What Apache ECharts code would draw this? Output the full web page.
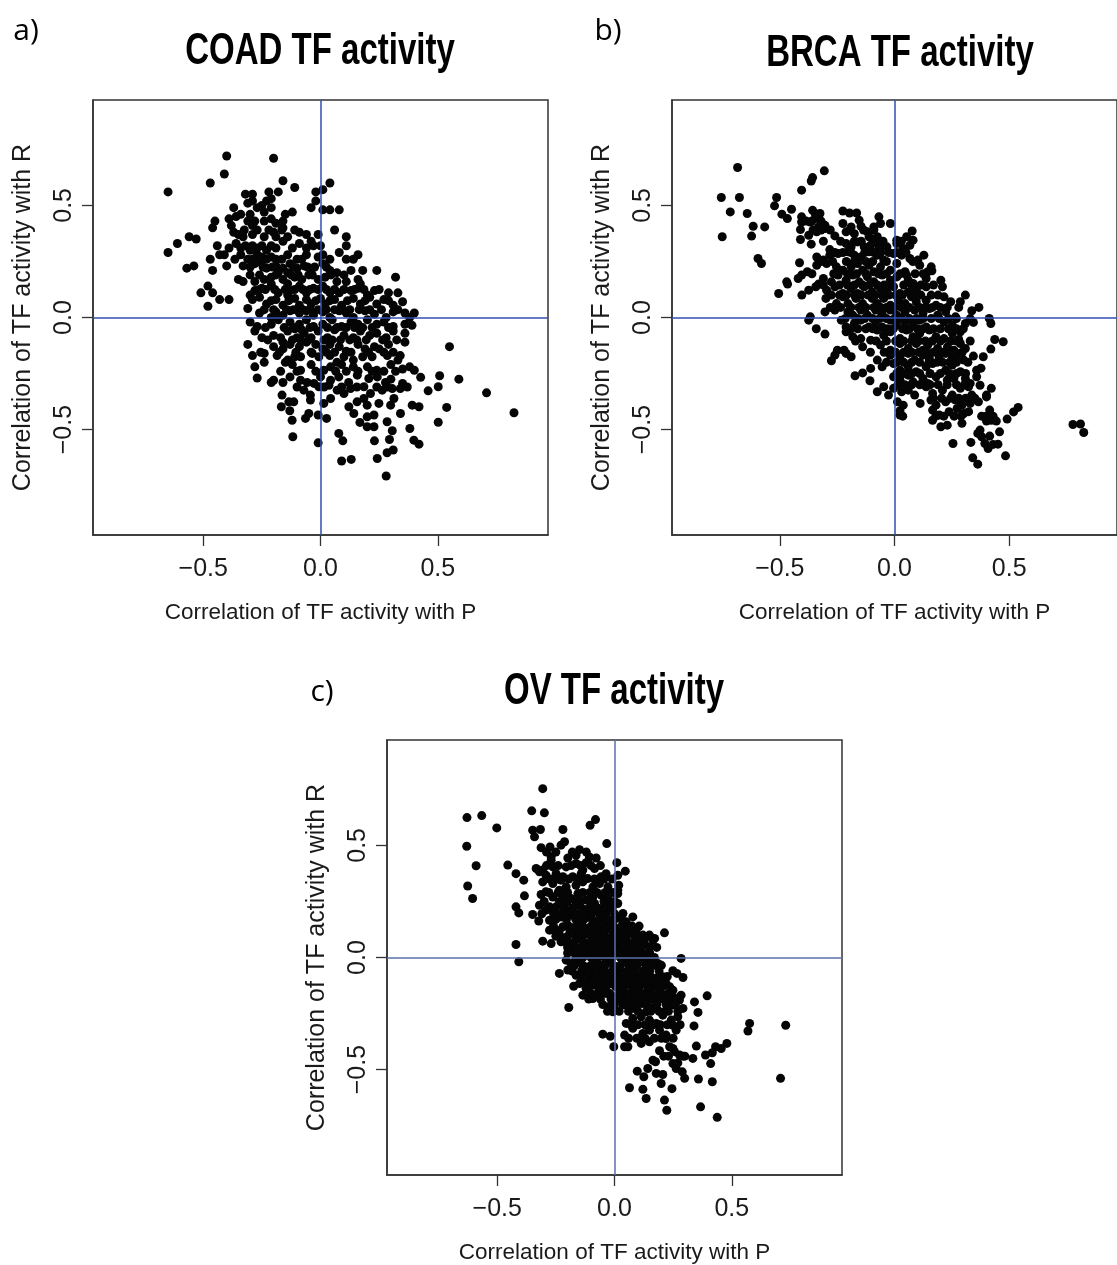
<!DOCTYPE html>
<html>
<head>
<meta charset="utf-8">
<title>TF activity correlations</title>
<script src="https://cdn.jsdelivr.net/npm/echarts@6/dist/echarts.min.js"></script>
<style>
  html, body { margin: 0; padding: 0; background: #fff; }
  #chart { width: 1117px; height: 1265px; }
</style>
</head>
<body>
<div id="chart"></div>
<script>
const tickValues = [-0.5, 0, 0.5]
const axisMin = -0.97
const axisMax = 0.97
const panelTitles = ['COAD TF activity', 'BRCA TF activity', 'OV TF activity']
const panelTags = ['a)', 'b)', 'c)']
const xName = 'Correlation of TF activity with P'
const yName = 'Correlation of TF activity with R'

// [correlation with P, correlation with R]
const coadPoints = [
  [-0.40,0.72],[-0.20,0.71],[-0.41,0.64],[-0.47,0.60],[-0.16,0.61],[0.04,0.60],
  [-0.65,0.56],[-0.11,0.58],[0.01,0.57],[-0.02,0.56],[-0.32,0.55],[-0.29,0.55],[-0.22,0.56],[-0.18,0.56],
  [-0.21,0.53],[-0.23,0.52],[-0.29,0.52],[-0.31,0.51],[-0.02,0.52],[-0.25,0.50],
  [-0.37,0.49],[-0.27,0.49],[-0.24,0.47],[-0.21,0.49],[-0.15,0.46],[-0.12,0.47],[-0.04,0.49],[0.01,0.48],[0.04,0.48],[0.08,0.48],[-0.30,0.46],[-0.34,0.46],
  [-0.39,0.44],[-0.36,0.45],[-0.31,0.43],[-0.28,0.43],[-0.21,0.44],[-0.19,0.42],[-0.45,0.43],[-0.46,0.40],[-0.38,0.41],[-0.29,0.41],[-0.24,0.43],[-0.16,0.40],[-0.16,0.43],
  [-0.37,0.38],[-0.35,0.37],[-0.29,0.37],[-0.27,0.39],[-0.24,0.36],[-0.20,0.38],[-0.19,0.36],[-0.14,0.36],[-0.09,0.38],[-0.06,0.37],[-0.01,0.37],[0.06,0.39],[0.11,0.36],[-0.56,0.36],[-0.53,0.35],[-0.33,0.36],
  [-0.61,0.33],[-0.36,0.33],[-0.32,0.32],[-0.29,0.32],[-0.25,0.32],[-0.21,0.32],[-0.16,0.34],[-0.09,0.33],[-0.04,0.34],[-0.03,0.32],[0.00,0.32],[0.11,0.32],[-0.44,0.32],[-0.39,0.31],[-0.41,0.28],[-0.65,0.29],[-0.30,0.30],[-0.23,0.30],
  [-0.47,0.26],[-0.43,0.28],[-0.34,0.28],[-0.31,0.26],[-0.27,0.28],[-0.25,0.27],[-0.21,0.27],[-0.14,0.28],[-0.10,0.26],[-0.06,0.28],[-0.01,0.27],[0.01,0.28],[0.08,0.29],[0.16,0.28],[0.14,0.26],[-0.19,0.26],[-0.26,0.25],
  [-0.57,0.22],[-0.54,0.23],[-0.46,0.21],[-0.40,0.23],[-0.33,0.23],[-0.28,0.24],[-0.23,0.22],[-0.19,0.23],[-0.16,0.22],[-0.13,0.24],[-0.10,0.22],[-0.07,0.23],[-0.04,0.21],[0.01,0.24],[0.04,0.21],[0.07,0.20],[0.13,0.21],[0.18,0.21],[0.24,0.21],[-0.14,0.20],[-0.18,0.20],
  [-0.35,0.17],[-0.33,0.16],[-0.28,0.16],[-0.24,0.17],[-0.21,0.18],[-0.16,0.17],[-0.11,0.18],[-0.08,0.17],[-0.05,0.19],[-0.01,0.17],[0.02,0.18],[0.07,0.16],[0.11,0.16],[0.16,0.17],[0.17,0.15],[0.32,0.18],[-0.21,0.15],[-0.14,0.15],
  [-0.48,0.14],[-0.51,0.11],[-0.46,0.11],[-0.28,0.12],[-0.25,0.13],[-0.21,0.14],[-0.18,0.11],[-0.13,0.12],[-0.09,0.14],[-0.06,0.11],[-0.03,0.13],[0.01,0.14],[0.04,0.11],[0.08,0.11],[0.13,0.12],[0.16,0.13],[0.20,0.10],[0.23,0.12],[0.29,0.11],[0.33,0.11],[-0.30,0.10],[-0.14,0.10],
  [-0.43,0.08],[-0.39,0.08],[-0.48,0.05],[-0.31,0.04],[-0.29,0.08],[-0.26,0.09],[-0.23,0.06],[-0.19,0.08],[-0.16,0.055],[-0.11,0.085],[-0.09,0.055],[-0.06,0.08],[-0.04,0.06],[0.00,0.085],[0.02,0.06],[0.06,0.08],[0.09,0.055],[0.14,0.085],[0.17,0.06],[0.24,0.06],[0.27,0.08],[0.35,0.07],[0.31,0.055],[0.21,0.09],
  [-0.26,0.02],[-0.19,0.025],[-0.16,0.01],[-0.13,0.03],[-0.09,0.02],[-0.06,0.03],[-0.03,0.01],[0.01,0.025],[0.04,0.00],[0.08,0.03],[0.11,0.02],[0.14,0.00],[0.19,0.03],[0.23,0.015],[0.28,0.00],[0.31,0.025],[0.36,0.02],[0.40,0.02],[0.38,0.00],[-0.21,0.00],
  [-0.30,-0.02],[-0.27,-0.04],[-0.21,-0.03],[-0.18,-0.01],[-0.13,-0.02],[-0.09,-0.03],[-0.06,-0.01],[-0.03,-0.04],[0.01,-0.03],[0.05,-0.01],[0.09,-0.04],[0.13,-0.02],[0.16,-0.03],[0.20,-0.01],[0.24,-0.03],[0.27,-0.02],[0.31,-0.04],[0.36,-0.03],[0.39,-0.035],[-0.11,-0.05],
  [-0.28,-0.06],[-0.25,-0.09],[-0.20,-0.08],[-0.17,-0.09],[-0.14,-0.06],[-0.10,-0.09],[-0.07,-0.07],[-0.04,-0.09],[-0.01,-0.06],[0.03,-0.09],[0.06,-0.055],[0.10,-0.08],[0.14,-0.09],[0.17,-0.06],[0.21,-0.08],[0.24,-0.07],[0.28,-0.09],[0.31,-0.06],[0.36,-0.07],[-0.08,-0.055],
  [-0.31,-0.12],[-0.20,-0.13],[-0.16,-0.14],[-0.13,-0.12],[-0.09,-0.13],[-0.06,-0.11],[-0.02,-0.12],[0.01,-0.14],[0.04,-0.12],[0.08,-0.13],[0.11,-0.15],[0.16,-0.12],[0.19,-0.14],[0.23,-0.13],[0.25,-0.14],[0.29,-0.12],[0.36,-0.11],[0.55,-0.13],[-0.16,-0.11],
  [-0.29,-0.17],[-0.24,-0.16],[-0.185,-0.17],[-0.14,-0.19],[-0.11,-0.175],[-0.085,-0.175],[-0.035,-0.16],[-0.007,-0.175],[0.04,-0.17],[0.10,-0.175],[0.14,-0.19],[0.18,-0.175],[0.22,-0.175],[0.285,-0.17],[0.33,-0.19],[0.34,-0.17],[0.07,-0.20],
  [-0.28,-0.22],[-0.24,-0.20],[-0.15,-0.20],[-0.12,-0.21],[-0.04,-0.21],[0.014,-0.235],[0.043,-0.22],[0.09,-0.21],[0.14,-0.22],[0.20,-0.22],[0.24,-0.235],[0.30,-0.21],[0.35,-0.23],[0.38,-0.22],[0.40,-0.235],[-0.085,-0.235],[0.11,-0.24],
  [-0.27,-0.27],[-0.21,-0.29],[-0.20,-0.28],[-0.16,-0.29],[-0.13,-0.265],[-0.085,-0.28],[-0.057,-0.29],[0.00,-0.265],[0.043,-0.28],[0.078,-0.265],[0.12,-0.29],[0.157,-0.257],[0.206,-0.272],[0.242,-0.265],[0.277,-0.29],[0.30,-0.275],[0.35,-0.294],[0.427,-0.267],[0.508,-0.26],[0.59,-0.275],[-0.028,-0.294],
  [-0.071,-0.324],[-0.007,-0.309],[0.036,-0.302],[0.071,-0.324],[0.10,-0.339],[0.128,-0.317],[0.185,-0.309],[0.213,-0.339],[0.263,-0.324],[0.306,-0.317],[0.459,-0.327],[0.502,-0.309],[0.708,-0.336],[0.34,-0.317],[-0.043,-0.346],
  [-0.164,-0.346],[-0.114,-0.376],[-0.043,-0.368],[0.014,-0.383],[0.043,-0.361],[0.121,-0.398],[0.156,-0.376],[0.185,-0.361],[0.199,-0.391],[0.249,-0.383],[0.299,-0.391],[0.313,-0.361],[0.391,-0.391],[0.42,-0.398],[-0.167,-0.398],[-0.135,-0.376],
  [-0.131,-0.416],[-0.05,-0.428],[-0.01,-0.435],[0.026,-0.45],[0.142,-0.428],[0.199,-0.443],[0.228,-0.435],[0.341,-0.428],[0.538,-0.401],[0.825,-0.425],[-0.064,-0.45],[-0.121,-0.458],
  [0.168,-0.468],[0.199,-0.487],[0.228,-0.487],[0.284,-0.465],[0.306,-0.505],[0.381,-0.495],[0.502,-0.467],
  [-0.118,-0.532],[0.078,-0.517],[0.095,-0.55],[-0.01,-0.559],[0.23,-0.55],[0.294,-0.544],[0.398,-0.547],[0.42,-0.565],[0.31,-0.591],[0.284,-0.603],[0.242,-0.629],[0.131,-0.633],[0.09,-0.64],[0.28,-0.707]
]
// dots packed in between the rows of the dense core
const coadCore = [
  [-0.34,0.31],[-0.27,0.31],[-0.19,0.31],[-0.12,0.31],[-0.06,0.31],
  [-0.325,0.39],[-0.22,0.39],[-0.165,0.39],[-0.11,0.39],
  [-0.365,0.26],[-0.29,0.26],[-0.23,0.26],[-0.165,0.26],[-0.08,0.26],[0.04,0.26],[0.11,0.26],
  [-0.30,0.225],[-0.245,0.225],[-0.205,0.225],[-0.115,0.225],[-0.055,0.225],[-0.025,0.225],[0.025,0.225],
  [-0.30,0.19],[-0.26,0.19],[-0.19,0.19],[-0.125,0.19],[-0.095,0.19],[-0.035,0.19],[0.045,0.19],[0.10,0.19],
  [-0.26,0.125],[-0.235,0.125],[-0.195,0.125],[-0.15,0.125],[-0.11,0.125],[-0.075,0.125],[-0.045,0.125],[-0.01,0.125],[0.025,0.125],[0.06,0.125],[0.10,0.125],[0.145,0.125],[0.185,0.125],[0.25,0.125],
  [-0.21,0.075],[-0.135,0.075],[-0.02,0.075],[0.04,0.075],[0.115,0.075],[0.19,0.075],[0.29,0.075],
  [-0.24,0.035],[-0.20,0.035],[-0.145,0.035],[-0.115,0.035],[-0.075,0.035],[-0.045,0.035],[-0.01,0.035],[0.025,0.035],[0.06,0.035],[0.095,0.035],[0.125,0.035],[0.165,0.035],[0.21,0.035],[0.26,0.035],[0.33,0.035],
  [-0.235,-0.045],[-0.155,-0.045],[-0.115,-0.045],[-0.045,-0.045],[0.03,-0.045],[0.07,-0.045],[0.11,-0.045],[0.145,-0.045],[0.18,-0.045],[0.22,-0.045],[0.29,-0.045],
  [-0.225,-0.10],[-0.12,-0.10],[-0.085,-0.10],[-0.05,-0.10],[0.015,-0.10],[0.05,-0.10],[0.085,-0.10],[0.125,-0.10],[0.155,-0.10],[0.195,-0.10],[0.265,-0.10],[0.325,-0.10],
  [-0.255,-0.155],[-0.175,-0.155],[-0.105,-0.155],[-0.04,-0.155],[0.025,-0.155],[0.06,-0.155],[0.13,-0.155],[0.205,-0.155],[0.27,-0.155],[0.31,-0.155],
  [-0.17,-0.24],[-0.10,-0.24],[-0.02,-0.24],[0.065,-0.24],[0.16,-0.24],[0.22,-0.24],[0.27,-0.24],[0.32,-0.24],
  [-0.10,-0.31],[0.015,-0.31],[0.09,-0.31],[0.155,-0.31],[0.24,-0.31],[0.285,-0.31],[0.37,-0.31]
]

const brcaPoints = [
  [-0.684,0.669],[-0.755,0.535],[-0.676,0.535],[-0.716,0.471],[-0.642,0.464],[-0.751,0.36],[-0.623,0.363],[-0.616,0.407],[-0.566,0.404],[-0.595,0.263],[-0.58,0.241],
  [-0.514,0.535],[-0.523,0.498],[-0.491,0.461],[-0.467,0.441],[-0.449,0.483],[-0.405,0.568],[-0.357,0.624],[-0.363,0.609],[-0.306,0.654],
  [-0.505,0.107],[-0.47,0.159],[-0.466,0.149],[-0.414,0.244],[-0.42,0.174],[-0.405,0.189],[-0.38,0.204],[-0.404,0.1],[-0.374,0.122],[-0.343,0.137],[-0.331,0.149],
  [-0.374,-0.012],[-0.367,0.003],[-0.341,-0.05],[-0.303,-0.074],[-0.275,-0.193],[-0.26,-0.168],[-0.249,-0.146],[-0.172,-0.26],[-0.139,-0.247],[-0.107,-0.282],
  [-0.075,-0.331],[-0.047,-0.309],[-0.026,-0.346],[0.024,-0.435],[0.036,-0.44],[0.112,-0.383],[0.255,-0.562],[0.333,-0.557],[0.341,-0.626],[0.363,-0.654],[0.484,-0.617],
  [0.778,-0.477],[0.811,-0.475],[0.825,-0.513],[0.539,-0.401],[0.519,-0.421],[0.491,-0.453],[0.474,-0.108],[0.437,-0.098],[0.42,-0.141],
  [0.42,-0.027],[0.413,-0.004],[0.368,0.045],[0.337,0.03],[0.344,-0.022],[0.309,0.1],[0.287,0.07],[0.209,0.137],[0.202,0.166],[0.16,0.226],[0.163,0.208],[0.128,0.278],[0.077,0.386],
  [0.387,-0.175],[0.377,-0.226],[0.344,-0.172],[0.373,-0.302],[0.422,-0.316],[0.401,-0.346],
  [-0.405,0.449],[-0.357,0.478],[-0.346,0.464],[-0.325,0.464],[-0.225,0.475],[-0.196,0.466],[-0.165,0.466],[-0.068,0.449],
  [-0.405,0.426],[-0.367,0.426],[-0.346,0.441],[-0.331,0.404],[-0.303,0.411],[-0.225,0.419],[-0.189,0.404],[-0.154,0.434],[-0.146,0.407],[-0.09,0.404],[-0.061,0.419],[-0.018,0.419],
  [-0.41,0.392],[-0.374,0.367],[-0.339,0.382],[-0.303,0.397],[-0.26,0.364],[-0.211,0.382],[-0.175,0.374],[-0.118,0.382],[-0.111,0.36],[-0.075,0.36],[0.053,0.36],[0.01,0.345],[0.081,0.345],[-0.41,0.348],
  [-0.363,0.327],[-0.282,0.303],[-0.211,0.33],[-0.189,0.315],[-0.161,0.337],[-0.132,0.315],[-0.104,0.322],[-0.068,0.315],[-0.033,0.315],[0.01,0.33],[0.038,0.308],[0.067,0.322],
  [-0.339,0.27],[-0.31,0.256],[-0.282,0.278],[-0.246,0.285],[-0.203,0.293],[-0.175,0.278],[-0.147,0.27],[-0.111,0.293],[-0.075,0.278],[-0.047,0.256],[-0.004,0.285],[0.031,0.278],[0.067,0.263],[0.102,0.256],
  [-0.339,0.233],[-0.296,0.241],[-0.253,0.226],[-0.225,0.211],[-0.189,0.226],[-0.161,0.241],[-0.139,0.211],[-0.111,0.233],[-0.09,0.204],[-0.061,0.226],[-0.018,0.211],[0.01,0.241],[0.046,0.204],[0.11,0.233],[0.145,0.204],
  [-0.31,0.174],[-0.275,0.159],[-0.246,0.189],[-0.211,0.166],[-0.182,0.189],[-0.154,0.159],[-0.118,0.181],[-0.09,0.159],[-0.054,0.189],[-0.018,0.166],[0.01,0.181],[0.053,0.189],[0.06,0.166],[0.081,0.152],[0.138,0.174],
  [-0.296,0.122],[-0.26,0.137],[-0.225,0.107],[-0.189,0.129],[-0.161,0.107],[-0.132,0.137],[-0.097,0.114],[-0.061,0.129],[-0.033,0.114],[-0.004,0.137],[0.024,0.107],[0.06,0.114],[0.095,0.122],[0.138,0.137],
  [-0.299,0.085],[-0.253,0.062],[-0.225,0.092],[-0.203,0.062],[-0.168,0.085],[-0.139,0.062],[-0.097,0.085],[-0.075,0.062],[-0.047,0.085],[-0.018,0.055],[0.017,0.077],[0.046,0.062],[0.074,0.092],[0.095,0.07],[0.138,0.077],[0.181,0.055],[0.245,0.07],[0.216,0.092],
  [-0.303,0.025],[-0.26,0.033],[-0.203,0.025],[-0.182,0.01],[-0.147,0.033],[-0.118,0.01],[-0.082,0.033],[-0.054,0.018],[-0.018,0.033],[0.01,0.01],[0.046,0.025],[0.088,0.033],[0.124,0.018],[0.152,0.04],[0.188,0.01],[0.223,0.025],[0.266,0.003],
  [-0.232,-0.012],[-0.211,-0.042],[-0.175,-0.027],[-0.147,-0.012],[-0.111,-0.042],[-0.082,-0.019],[-0.054,-0.042],[-0.018,-0.012],[0.01,-0.034],[0.046,-0.019],[0.081,-0.027],[0.11,-0.012],[0.138,-0.042],[0.216,-0.019],[0.252,-0.034],[0.309,-0.027],
  [-0.211,-0.064],[-0.182,-0.086],[-0.147,-0.094],[-0.104,-0.101],[-0.075,-0.056],[-0.047,-0.079],[-0.018,-0.064],[0.024,-0.094],[0.053,-0.056],[0.081,-0.086],[0.11,-0.071],[0.152,-0.056],[0.181,-0.086],[0.216,-0.094],[0.252,-0.071],[0.287,-0.064],[0.28,-0.098],
  [-0.22,-0.146],[-0.139,-0.131],[-0.061,-0.123],[-0.018,-0.146],[0.024,-0.116],[0.06,-0.138],[0.095,-0.116],[0.124,-0.146],[0.145,-0.123],[0.188,-0.138],[0.231,-0.131],[0.259,-0.146],[0.287,-0.116],[0.309,-0.138],
  [-0.211,-0.16],[-0.189,-0.175],[-0.075,-0.19],[-0.018,-0.168],[0.024,-0.175],[0.06,-0.16],[0.088,-0.19],[0.124,-0.168],[0.152,-0.183],[0.195,-0.175],[0.223,-0.16],[0.252,-0.183],[0.28,-0.168],[0.302,-0.19],
  [-0.104,-0.227],[-0.054,-0.22],[-0.004,-0.205],[0.024,-0.235],[0.06,-0.22],[0.095,-0.242],[0.138,-0.22],[0.166,-0.205],[0.223,-0.235],[0.252,-0.212],[0.287,-0.242],[0.358,-0.235],
  [-0.004,-0.264],[0.024,-0.279],[0.06,-0.257],[0.081,-0.287],[0.124,-0.272],[0.145,-0.294],[0.181,-0.264],[0.23,-0.279],[0.259,-0.272],[0.309,-0.272],[0.33,-0.294],[0.358,-0.264],
  [-0.004,-0.316],[0.031,-0.331],[0.06,-0.324],[0.088,-0.346],[0.138,-0.309],[0.166,-0.339],[0.209,-0.324],[0.252,-0.346],[0.287,-0.316],[0.323,-0.309],[0.337,-0.346],
  [0.013,-0.376],[0.038,-0.391],[0.159,-0.368],[0.181,-0.391],[0.223,-0.376],[0.266,-0.368],[0.294,-0.391],[0.33,-0.383],[0.366,-0.376],[0.401,-0.354],
  [0.024,-0.416],[0.166,-0.413],[0.195,-0.435],[0.238,-0.42],[0.273,-0.406],[0.302,-0.428],[0.323,-0.42],[0.415,-0.413],
  [0.166,-0.458],[0.202,-0.487],[0.23,-0.48],[0.294,-0.472],[0.401,-0.462],[0.422,-0.458],[0.444,-0.462],[0.373,-0.502],[0.458,-0.51],
  [0.363,-0.517],[0.38,-0.532],[0.415,-0.529],[0.451,-0.565],[0.43,-0.566],[0.408,-0.584],[0.394,-0.562]
]
const brcaCore = [
  [-0.385,0.43],[-0.36,0.43],[-0.32,0.43],
  [-0.355,0.39],[-0.32,0.39],[-0.28,0.39],[-0.195,0.39],[-0.135,0.39],[-0.09,0.39],
  [-0.31,0.34],[-0.235,0.34],[-0.175,0.34],[-0.145,0.34],[-0.085,0.34],[-0.05,0.34],[0.03,0.34],
  [-0.26,0.29],[-0.225,0.29],[-0.19,0.29],[-0.13,0.29],[-0.09,0.29],[-0.06,0.29],[-0.025,0.29],[0.01,0.29],[0.05,0.29],
  [-0.32,0.25],[-0.27,0.25],[-0.21,0.25],[-0.175,0.25],[-0.125,0.25],[-0.095,0.25],[-0.035,0.25],[0.08,0.25],
  [-0.36,0.195],[-0.265,0.195],[-0.205,0.195],[-0.165,0.195],[-0.125,0.195],[-0.07,0.195],[-0.035,0.195],[0.025,0.195],[0.09,0.195],[0.125,0.195],
  [-0.31,0.145],[-0.24,0.145],[-0.205,0.145],[-0.175,0.145],[-0.14,0.145],[-0.11,0.145],[-0.075,0.145],[-0.045,0.145],[-0.015,0.145],[0.04,0.145],[0.075,0.145],[0.115,0.145],[0.17,0.145],
  [-0.275,0.10],[-0.24,0.10],[-0.21,0.10],[-0.175,0.10],[-0.145,0.10],[-0.115,0.10],[-0.085,0.10],[-0.055,0.10],[-0.025,0.10],[0.005,0.10],[0.035,0.10],[0.085,0.10],[0.115,0.10],[0.16,0.10],[0.19,0.10],
  [-0.28,0.045],[-0.235,0.045],[-0.19,0.045],[-0.155,0.045],[-0.125,0.045],[-0.09,0.045],[-0.06,0.045],[-0.035,0.045],[0.0,0.045],[0.03,0.045],[0.065,0.045],[0.11,0.045],[0.135,0.045],[0.165,0.045],[0.20,0.045],[0.23,0.045],[0.28,0.045],
  [-0.215,-0.005],[-0.16,-0.005],[-0.13,-0.005],[-0.095,-0.005],[-0.065,-0.005],[-0.035,-0.005],[0.0,-0.005],[0.03,-0.005],[0.065,-0.005],[0.095,-0.005],[0.125,-0.005],[0.16,-0.005],[0.195,-0.005],[0.235,-0.005],[0.27,-0.005],[0.33,-0.005],
  [-0.19,-0.05],[-0.16,-0.05],[-0.125,-0.05],[-0.095,-0.05],[-0.03,-0.05],[-0.005,-0.05],[0.035,-0.05],[0.065,-0.05],[0.10,-0.05],[0.125,-0.05],[0.17,-0.05],[0.20,-0.05],[0.235,-0.05],[0.27,-0.05],[0.30,-0.05],
  [-0.17,-0.105],[-0.08,-0.105],[-0.035,-0.105],[0.005,-0.105],[0.04,-0.105],[0.075,-0.105],[0.105,-0.105],[0.135,-0.105],[0.165,-0.105],[0.20,-0.105],[0.245,-0.105],[0.27,-0.105],[0.33,-0.105],
  [-0.105,-0.155],[-0.045,-0.155],[0.005,-0.155],[0.04,-0.155],[0.075,-0.155],[0.105,-0.155],[0.14,-0.155],[0.17,-0.155],[0.21,-0.155],[0.24,-0.155],[0.265,-0.155],[0.295,-0.155],
  [-0.035,-0.20],[0.01,-0.20],[0.04,-0.20],[0.075,-0.20],[0.11,-0.20],[0.15,-0.20],[0.185,-0.20],[0.21,-0.20],[0.24,-0.20],[0.27,-0.20],[0.32,-0.20],
  [0.01,-0.25],[0.04,-0.25],[0.075,-0.25],[0.11,-0.25],[0.155,-0.25],[0.20,-0.25],[0.24,-0.25],[0.27,-0.25],[0.31,-0.25],
  [0.015,-0.30],[0.045,-0.30],[0.075,-0.30],[0.11,-0.30],[0.155,-0.30],[0.19,-0.30],[0.23,-0.30],[0.27,-0.30],[0.305,-0.30],
  [0.17,-0.36],[0.205,-0.36],[0.245,-0.36],[0.28,-0.36],[0.31,-0.36],[0.35,-0.36],
  [0.18,-0.44],[0.215,-0.44],[0.26,-0.44],[0.29,-0.44],[0.38,-0.44],[0.40,-0.44],[0.43,-0.44]
]

const ovPoints = [
  [-0.306,0.753],[-0.353,0.654],[-0.299,0.645],[-0.629,0.624],[-0.566,0.633],[-0.502,0.578],[-0.349,0.568],[-0.316,0.571],[-0.341,0.538],[-0.22,0.571],
  [-0.104,0.59],[-0.081,0.615],[-0.033,0.508],[-0.63,0.496],[-0.59,0.409],[-0.626,0.319],[-0.605,0.263],[-0.455,0.412],[-0.42,0.374],[-0.387,0.345],[-0.384,0.275],
  [-0.408,0.199],[-0.349,0.192],[-0.323,0.163],[-0.306,0.073],[-0.42,0.058],[-0.408,-0.019],[-0.235,-0.071],[-0.174,-0.128],[-0.195,-0.223],
  [-0.05,-0.342],[-0.018,-0.351],[-0.003,-0.398],[0.213,0.11],[0.284,-0.004],[0.249,-0.059],[0.266,-0.071],[0.292,-0.089],[0.395,-0.171],[0.341,-0.198],[0.356,-0.245],[0.339,-0.305],
  [0.576,-0.294],[0.569,-0.328],[0.73,-0.302],[0.708,-0.539],[0.479,-0.383],[0.455,-0.406],[0.431,-0.398],[0.417,-0.425],[0.388,-0.435],[0.41,-0.473],[0.349,-0.395],[0.334,-0.45],
  [0.358,-0.542],[0.417,-0.554],[0.367,-0.666],[0.438,-0.713],[0.064,-0.581],[0.097,-0.507],[0.125,-0.532],[0.121,-0.588],[0.135,-0.629],[0.142,-0.495],[0.178,-0.517],
  [0.206,-0.522],[0.199,-0.562],[0.213,-0.636],[0.223,-0.681],[0.245,-0.585],[0.263,-0.495],[0.289,-0.51],[0.299,-0.539],[0.192,-0.416],[0.164,-0.458],[0.175,-0.465],
  [0.256,-0.42],[0.277,-0.435],[0.292,-0.44],[0.27,-0.47],[0.249,-0.473],
  [-0.313,0.49],[-0.275,0.493],[-0.213,0.516],[-0.228,0.501],[-0.149,0.481],[-0.164,0.456],[-0.199,0.444],[-0.107,0.448],[-0.078,0.444],[-0.27,0.449],
  [-0.27,0.434],[-0.121,0.423],[-0.085,0.397],[0.01,0.423],[0.046,0.385],[-0.334,0.397],[-0.306,0.39],[-0.263,0.404],[-0.206,0.404],[-0.164,0.419],[-0.135,0.39],
  [-0.32,0.382],[-0.292,0.367],[-0.249,0.374],[-0.22,0.36],[-0.178,0.36],[-0.142,0.374],[-0.114,0.352],[-0.057,0.36],[-0.036,0.374],[0.014,0.367],[0.018,0.322],
  [-0.306,0.337],[-0.263,0.33],[-0.228,0.345],[-0.206,0.315],[-0.164,0.322],[-0.135,0.337],[-0.092,0.315],[-0.064,0.33],[-0.028,0.315],[0.014,0.3],[-0.235,0.3],
  [-0.313,0.281],[-0.292,0.293],[-0.263,0.27],[-0.22,0.278],[-0.185,0.263],[-0.156,0.285],[-0.121,0.256],[-0.092,0.27],[-0.057,0.278],[-0.028,0.263],[0.014,0.285],[-0.149,0.256],
  [-0.32,0.233],[-0.292,0.211],[-0.249,0.226],[-0.213,0.241],[-0.178,0.218],[-0.149,0.233],[-0.121,0.211],[-0.085,0.241],[-0.064,0.218],[-0.021,0.233],[0.014,0.241],[-0.42,0.226],[-0.277,0.226],
  [-0.277,0.166],[-0.228,0.181],[-0.185,0.189],[-0.149,0.166],[-0.114,0.181],[-0.078,0.159],[-0.05,0.189],[-0.021,0.166],[0.014,0.181],[0.036,0.196],[0.078,0.181],[0.05,0.159],
  [-0.277,0.122],[-0.249,0.107],[-0.22,0.137],[-0.171,0.122],[-0.149,0.144],[-0.121,0.114],[-0.085,0.137],[-0.057,0.122],[-0.021,0.137],[0.007,0.122],[0.028,0.137],[0.057,0.114],[0.092,0.122],[0.121,0.1],[0.149,0.1],[0.171,0.085],
  [-0.27,0.062],[-0.228,0.07],[-0.181,0.062],[-0.149,0.085],[-0.121,0.062],[-0.085,0.085],[-0.057,0.062],[-0.021,0.085],[0.0,0.055],[0.036,0.077],[0.064,0.062],[0.1,0.077],[0.128,0.062],[0.164,0.077],[-0.228,0.092],
  [-0.178,0.025],[-0.149,0.04],[-0.121,0.018],[-0.092,0.033],[-0.064,0.015],[-0.036,0.04],[-0.007,0.025],[0.021,0.01],[0.05,0.033],[0.078,0.025],[0.114,0.033],[0.135,0.015],
  [-0.206,-0.012],[-0.185,-0.027],[-0.149,-0.012],[-0.121,-0.042],[-0.085,-0.012],[-0.057,-0.034],[-0.021,-0.019],[0.007,-0.042],[0.043,-0.012],[0.078,-0.027],[0.114,-0.019],[0.156,-0.019],[0.185,-0.027],
  [-0.199,-0.056],[-0.164,-0.079],[-0.128,-0.064],[-0.092,-0.086],[-0.064,-0.064],[-0.028,-0.086],[0.007,-0.064],[0.036,-0.094],[0.071,-0.071],[0.107,-0.086],[0.135,-0.064],[0.171,-0.094],[0.206,-0.086],
  [-0.149,-0.116],[-0.121,-0.138],[-0.085,-0.123],[-0.057,-0.146],[-0.014,-0.116],[0.021,-0.131],[0.057,-0.116],[0.092,-0.138],[0.121,-0.116],[0.156,-0.131],[0.192,-0.138],[0.22,-0.116],[0.249,-0.146],
  [-0.135,-0.168],[-0.092,-0.183],[-0.036,-0.16],[0.007,-0.175],[0.043,-0.16],[0.071,-0.19],[0.107,-0.175],[0.135,-0.16],[0.178,-0.183],[0.213,-0.168],[0.249,-0.175],[0.277,-0.19],[0.284,-0.168],
  [-0.028,-0.22],[-0.007,-0.242],[0.043,-0.212],[0.085,-0.227],[0.121,-0.205],[0.135,-0.242],[0.171,-0.22],[0.213,-0.242],[0.249,-0.212],[0.292,-0.227],
  [0.05,-0.294],[0.078,-0.272],[0.114,-0.264],[0.149,-0.279],[0.178,-0.294],[0.206,-0.257],[0.242,-0.279],[0.27,-0.264],[0.249,-0.302],
  [0.043,-0.346],[0.078,-0.316],[0.121,-0.339],[0.149,-0.324],[0.192,-0.324],[0.22,-0.346],[0.263,-0.324],
  [0.043,-0.398],[0.057,-0.398],[0.114,-0.383],[0.149,-0.376],[0.22,-0.361],[0.235,-0.398],[0.249,-0.406]
]
const ovCore = [
  [-0.29,0.47],[-0.25,0.47],[-0.18,0.47],[-0.12,0.47],
  [-0.29,0.41],[-0.24,0.41],[-0.185,0.41],[-0.145,0.41],[-0.10,0.41],[-0.06,0.41],
  [-0.275,0.35],[-0.24,0.35],[-0.195,0.35],[-0.16,0.35],[-0.125,0.35],[-0.085,0.35],[-0.045,0.35],[-0.01,0.35],
  [-0.28,0.29],[-0.24,0.29],[-0.20,0.29],[-0.135,0.29],[-0.105,0.29],[-0.075,0.29],[-0.04,0.29],[-0.005,0.29],
  [-0.30,0.25],[-0.235,0.25],[-0.20,0.25],[-0.165,0.25],[-0.10,0.25],[-0.045,0.25],[0.0,0.25],
  [-0.31,0.195],[-0.26,0.195],[-0.23,0.195],[-0.195,0.195],[-0.165,0.195],[-0.135,0.195],[-0.10,0.195],[-0.065,0.195],[-0.035,0.195],[0.0,0.195],
  [-0.26,0.14],[-0.195,0.14],[-0.165,0.14],[-0.135,0.14],[-0.10,0.14],[-0.07,0.14],[-0.04,0.14],[-0.005,0.14],[0.045,0.14],[0.075,0.14],[0.105,0.14],
  [-0.25,0.095],[-0.20,0.095],[-0.165,0.095],[-0.135,0.095],[-0.10,0.095],[-0.07,0.095],[-0.04,0.095],[-0.005,0.095],[0.02,0.095],[0.05,0.095],[0.085,0.095],[0.115,0.095],[0.145,0.095],
  [-0.20,0.045],[-0.165,0.045],[-0.135,0.045],[-0.105,0.045],[-0.075,0.045],[-0.045,0.045],[-0.02,0.045],[0.015,0.045],[0.05,0.045],[0.085,0.045],[0.115,0.045],[0.15,0.045],[0.18,0.045],
  [-0.165,0.0],[-0.135,0.0],[-0.10,0.0],[-0.07,0.0],[-0.04,0.0],[-0.01,0.0],[0.025,0.0],[0.06,0.0],[0.095,0.0],[0.13,0.0],[0.17,0.0],
  [-0.17,-0.035],[-0.135,-0.035],[-0.10,-0.035],[-0.07,-0.035],[-0.04,-0.035],[-0.005,-0.035],[0.025,-0.035],[0.06,-0.035],[0.095,-0.035],[0.135,-0.035],[0.17,-0.035],[0.20,-0.035],
  [-0.145,-0.085],[-0.11,-0.085],[-0.075,-0.085],[-0.045,-0.085],[-0.01,-0.085],[0.02,-0.085],[0.055,-0.085],[0.09,-0.085],[0.12,-0.085],[0.155,-0.085],[0.19,-0.085],[0.225,-0.085],
  [-0.105,-0.13],[-0.07,-0.13],[-0.035,-0.13],[0.005,-0.13],[0.04,-0.13],[0.075,-0.13],[0.105,-0.13],[0.14,-0.13],[0.175,-0.13],[0.205,-0.13],[0.235,-0.13],
  [-0.11,-0.185],[-0.06,-0.185],[-0.015,-0.185],[0.025,-0.185],[0.055,-0.185],[0.09,-0.185],[0.12,-0.185],[0.155,-0.185],[0.195,-0.185],[0.23,-0.185],[0.265,-0.185],
  [-0.03,-0.24],[0.02,-0.24],[0.06,-0.24],[0.10,-0.24],[0.155,-0.24],[0.19,-0.24],[0.23,-0.24],[0.27,-0.24],
  [0.07,-0.30],[0.10,-0.30],[0.13,-0.30],[0.165,-0.30],[0.195,-0.30],[0.225,-0.30],[0.28,-0.30],
  [0.06,-0.36],[0.095,-0.36],[0.13,-0.36],[0.17,-0.36],[0.20,-0.36],[0.25,-0.36],
  [0.21,-0.44],[0.23,-0.44],[0.30,-0.44],
  [-0.26,0.22],[-0.215,0.22],[-0.18,0.22],[-0.14,0.22],[-0.11,0.22],[-0.075,0.22],[-0.04,0.22],[-0.01,0.22],
  [-0.25,0.17],[-0.205,0.17],[-0.165,0.17],[-0.13,0.17],[-0.095,0.17],[-0.06,0.17],[-0.03,0.17],[0.0,0.17],[0.03,0.17],
  [-0.235,0.12],[-0.19,0.12],[-0.155,0.12],[-0.11,0.12],[-0.075,0.12],[-0.04,0.12],[-0.01,0.12],[0.02,0.12],[0.045,0.12],[0.08,0.12],
  [-0.21,0.07],[-0.17,0.07],[-0.135,0.07],[-0.10,0.07],[-0.07,0.07],[-0.035,0.07],[-0.005,0.07],[0.025,0.07],[0.055,0.07],[0.09,0.07],[0.125,0.07],
  [-0.20,0.02],[-0.16,0.02],[-0.13,0.02],[-0.085,0.02],[-0.05,0.02],[-0.02,0.02],[0.01,0.02],[0.04,0.02],[0.07,0.02],[0.10,0.02],[0.15,0.02],
  [-0.18,-0.06],[-0.14,-0.06],[-0.11,-0.06],[-0.08,-0.06],[-0.045,-0.06],[-0.01,-0.06],[0.025,-0.06],[0.055,-0.06],[0.085,-0.06],[0.12,-0.06],[0.15,-0.06],[0.19,-0.06],
  [-0.125,-0.11],[-0.095,-0.11],[-0.06,-0.11],[-0.03,-0.11],[0.005,-0.11],[0.04,-0.11],[0.07,-0.11],[0.10,-0.11],[0.135,-0.11],[0.17,-0.11],[0.20,-0.11],
  [-0.10,-0.16],[-0.07,-0.16],[-0.02,-0.16],[0.02,-0.16],[0.06,-0.16],[0.09,-0.16],[0.12,-0.16],[0.16,-0.16],[0.195,-0.16],[0.23,-0.16],
  [-0.05,-0.21],[0.0,-0.21],[0.035,-0.21],[0.07,-0.21],[0.10,-0.21],[0.14,-0.21],[0.18,-0.21],[0.22,-0.21],[0.26,-0.21]
]

const panels = [
  { points: coadPoints.concat(coadCore), left: 93, top: 100, lineColor: '#2f4fb5', title: [320, 52], tag: [26, 31] },
  { points: brcaPoints.concat(brcaCore), left: 672, top: 100, lineColor: '#2f4fb5', title: [900, 54], tag: [608, 31] },
  { points: ovPoints.concat(ovCore), left: 387, top: 740, lineColor: '#5a6fae', title: [614, 692], tag: [322, 692] }
]

const textFont = '"Liberation Sans", Arial, sans-serif'
const tickFormat = v => (v < 0 ? '\u2212' : '') + Math.abs(v).toFixed(1)

const grid = [], xAxis = [], yAxis = [], series = [], graphic = []
panels.forEach((p, i) => {
  grid.push({
    left: p.left, top: p.top, width: 455, height: 435,
    show: true, borderColor: '#333', borderWidth: 1.5, backgroundColor: 'transparent'
  })
  let common = {
    gridIndex: i,
    type: 'value',
    min: axisMin,
    max: axisMax,
    splitLine: { show: false },
    axisLine: { show: true, onZero: false, lineStyle: { color: '#333', width: 1.5 } },
    axisTick: { show: true, customValues: tickValues, length: 11, lineStyle: { color: '#333', width: 1.3 } },
    nameLocation: 'middle'
  }
  xAxis.push({
    ...common,
    axisLabel: { customValues: tickValues, formatter: tickFormat, fontSize: 25, color: '#1a1a1a', fontFamily: textFont, margin: 22 },
    name: xName,
    nameGap: 66,
    nameTextStyle: { fontSize: 22.5, color: '#1a1a1a', fontFamily: textFont }
  })
  yAxis.push({
    ...common,
    axisLabel: { customValues: tickValues, formatter: tickFormat, rotate: 90, fontSize: 25, color: '#1a1a1a', fontFamily: textFont, margin: 16 },
    name: yName,
    nameGap: 57,
    nameTextStyle: { fontSize: 25, color: '#1a1a1a', fontFamily: textFont }
  })
  series.push({
    type: 'scatter',
    xAxisIndex: i,
    yAxisIndex: i,
    data: p.points,
    symbolSize: 9,
    itemStyle: { color: '#050505', opacity: 1 },
    emphasis: { disabled: true },
    // zero lines sit on top of the dots, as in the original
    markLine: {
      silent: true,
      symbol: ['none', 'none'],
      label: { show: false },
      lineStyle: { color: p.lineColor, width: 1.5, type: 'solid', opacity: 1 },
      data: [ { xAxis: 0 }, { yAxis: 0 } ]
    }
  })
  // bold condensed title: squeeze a bold sans horizontally
  graphic.push({
    type: 'text', x: p.title[0], y: p.title[1], scaleX: 0.75,
    style: {
      text: panelTitles[i], fill: '#000', align: 'center', verticalAlign: 'middle',
      font: 'bold 44px "Liberation Sans", Arial, sans-serif'
    }
  })
  graphic.push({
    type: 'text', x: p.tag[0], y: p.tag[1],
    style: {
      text: panelTags[i], fill: '#000', align: 'center', verticalAlign: 'middle',
      font: '30px "Open Sans", "Noto Sans", sans-serif'
    }
  })
})

const chart = echarts.init(document.getElementById('chart'), null, { renderer: 'canvas' })
chart.setOption({
  animation: false,
  backgroundColor: '#fff',
  grid, xAxis, yAxis, series, graphic
})
</script>
</body>
</html>
